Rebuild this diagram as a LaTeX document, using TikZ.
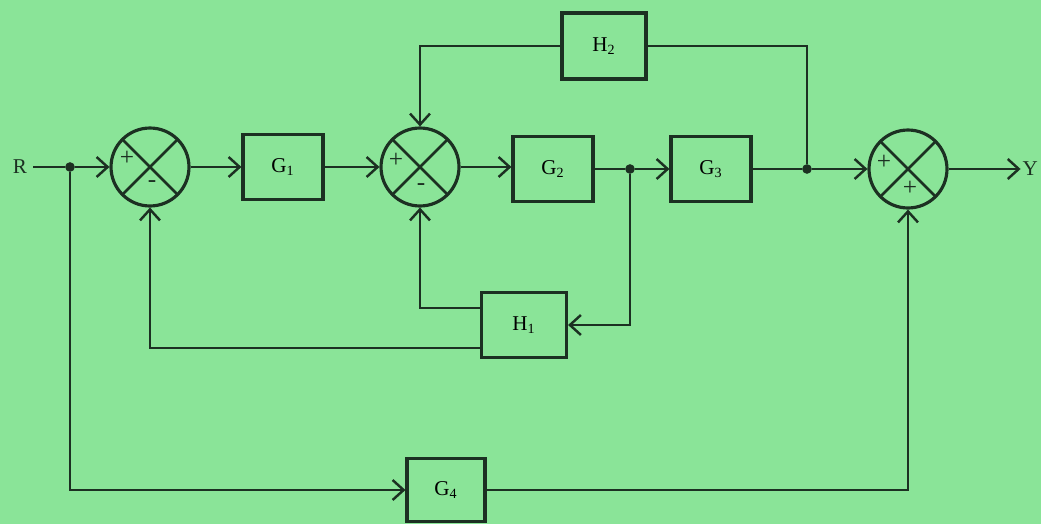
\documentclass[tikz,border=0pt]{standalone}
\usepackage{fontspec}
\setmainfont{Liberation Serif}
\usepackage{xcolor}
\usepackage{tikz}
\usetikzlibrary{arrows.meta, positioning}
\definecolor{PaperGreen}{RGB}{138,228,152}
\definecolor{InkDark}{RGB}{28,48,34}

\begin{document}
\begin{tikzpicture}[x=0.02cm, y=-0.02cm,
    block/.style={rectangle, draw=InkDark, line width=1.8pt, minimum width=1.6cm, minimum height=1.3cm, align=center, font=\large},
    sumnode/.style={circle, draw=InkDark, line width=1.8pt, minimum size=1.56cm, inner sep=0pt,
        path picture={\draw[InkDark, line width=1.5pt] (path picture bounding box.south west) -- (path picture bounding box.north east)
            (path picture bounding box.north west) -- (path picture bounding box.south east);}},
    sign/.style={text=InkDark, font=\Large, inner sep=0pt},
    dot/.style={circle, fill=InkDark, inner sep=0pt, minimum size=5.5pt},
    arrow/.style={-{Straight Barb[length=2.2mm, width=4mm, line width=1.4pt]}, draw=InkDark, line width=1.5pt},
    line/.style={draw=InkDark, line width=1.5pt}
]
\fill[PaperGreen] (0,0) rectangle (1041,524);
\useasboundingbox (0,0) rectangle (1041,524);

% forward path
\node[text=InkDark, font=\large] (R) at (20,167) {R};
\node[sumnode] (s1) at (150,167) {};
\node[block] (G1) at (283,167) {G\textsubscript{1}};
\node[sumnode] (s2) at (420,167) {};
\node[block] (G2) at (553,169) {G\textsubscript{2}};
\node[block] (G3) at (711,169) {G\textsubscript{3}};
\node[sumnode] (s3) at (908,169) {};
\node[text=InkDark, font=\large, inner sep=1pt, anchor=east] (Y) at (1040,169) {Y};

% feedback and feedforward blocks
\node[block, minimum width=1.68cm, minimum height=1.32cm] (H2) at (604,46) {H\textsubscript{2}};
\node[block, minimum width=1.7cm, minimum height=1.3cm] (H1) at (524,325) {H\textsubscript{1}};
\node[block, minimum width=1.56cm, minimum height=1.25cm] (G4) at (446,490) {G\textsubscript{4}};

% signs
\node[sign] (s1a) at (127,158) {+};
\node[sign] (s1b) at (152,184) {-};
\node[sign] (s2a) at (396,160) {+};
\node[sign] (s2b) at (421,187) {-};
\node[sign] (s3a) at (884,162) {+};
\node[sign] (s3b) at (910,188) {+};

% branch points
\node[dot] (b1) at (70,167) {};
\node[dot] (b2) at (630,169) {};
\node[dot] (b3) at (807,169) {};

\draw[line] (R) -- (b1);
\draw[arrow] (b1) -- (s1);
\draw[arrow] (s1) -- (G1);
\draw[arrow] (G1) -- (s2);
\draw[arrow] (s2) -- (s2 -| G2.west);
\draw[line] (G2) -- (b2);
\draw[arrow] (b2) -- (G3);
\draw[line] (G3) -- (b3);
\draw[arrow] (b3) -- (s3);
\draw[arrow] (s3) -- (Y);

\draw[line] (b3) |- (H2);
\draw[arrow] (H2) -| (s2);
\draw[arrow] (b2) |- (H1);
\draw[arrow] ([yshift=0.34cm]H1.west) -| (s2);
\draw[arrow] ([yshift=-0.46cm]H1.west) -| (s1);
\draw[arrow] (b1) |- (G4);
\draw[arrow] (G4) -| (s3);
\end{tikzpicture}
\end{document}
